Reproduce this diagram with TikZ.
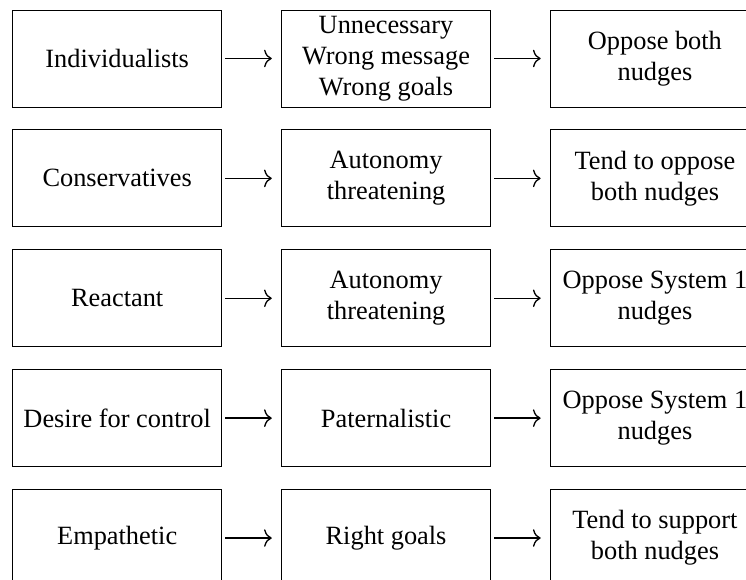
\documentclass[tikz,border=0pt]{standalone}
\usepackage{fontspec}
\setmainfont{Liberation Serif}
\usetikzlibrary{arrows.meta, positioning}

\begin{document}
\begin{tikzpicture}[
    node distance=0.352cm and 0.944cm,
    box/.style={draw, align=center, minimum width=3.344cm, minimum height=1.552cm, inner sep=0pt, font=\fontsize{12}{14}\selectfont},
    arrow/.style={-{To[length=3.5pt,width=8pt]}, semithick, shorten <=0.053cm, shorten >=0.15cm}
]
\useasboundingbox (-1.875,0.936) rectangle (10.061,-8.344);

% Nodes - who
\node[box] (indiv) {Individualists};
\node[box, below=of indiv] (cons) {Conservatives};
\node[box, below=of cons] (react) {Reactant};
\node[box, below=of react] (control) {Desire for control};
\node[box, below=of control] (empath) {Empathetic};

% Nodes - how the nudge is seen
\node[box, right=of indiv] (indivview) {Unnecessary \\ Wrong message \\ Wrong goals};
\node[box, right=of cons] (consview) {Autonomy \\ threatening};
\node[box, right=of react] (reactview) {Autonomy \\ threatening};
\node[box, right=of control] (controlview) {Paternalistic};
\node[box, right=of empath] (empathview) {Right goals};

% Nodes - attitude
\node[box, right=of indivview] (indivatt) {Oppose both \\ nudges};
\node[box, right=of consview] (consatt) {Tend to oppose \\ both nudges};
\node[box, right=of reactview] (reactatt) {Oppose System 1 \\ nudges};
\node[box, right=of controlview] (controlatt) {Oppose System 1 \\ nudges};
\node[box, right=of empathview] (empathatt) {Tend to support \\ both nudges};

% Arrows
\draw[arrow] (indiv) -- (indivview);
\draw[arrow] (cons) -- (consview);
\draw[arrow] (react) -- (reactview);
\draw[arrow] (control) -- (controlview);
\draw[arrow] (empath) -- (empathview);

\draw[arrow] (indivview) -- (indivatt);
\draw[arrow] (consview) -- (consatt);
\draw[arrow] (reactview) -- (reactatt);
\draw[arrow] (controlview) -- (controlatt);
\draw[arrow] (empathview) -- (empathatt);

\end{tikzpicture}
\end{document}
